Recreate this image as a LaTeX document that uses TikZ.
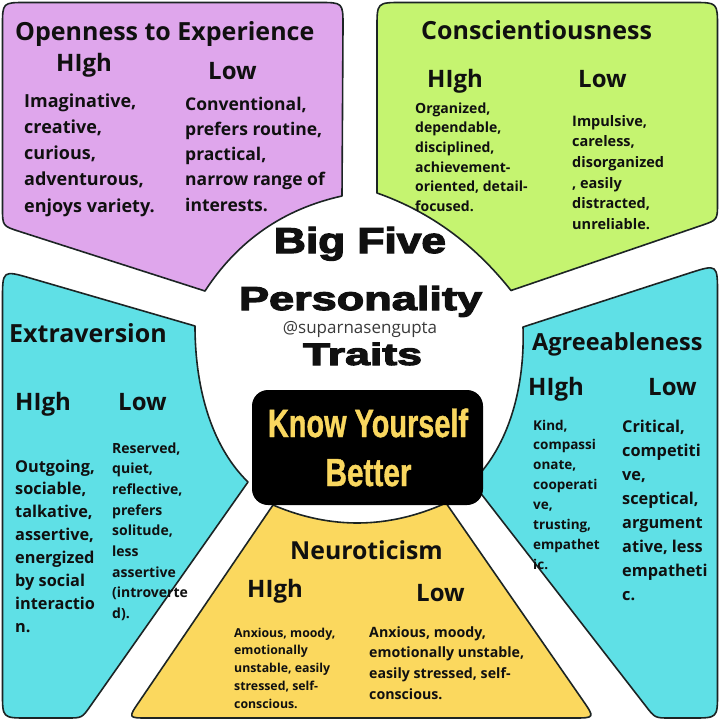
\documentclass[tikz,border=0pt]{standalone}
\usepackage{fontspec}
\usepackage{graphicx}
\setmainfont{Open Sans}
\newfontfamily\heavyfont{Liberation Sans}[BoldFeatures={FakeBold=3.2}]
\newfontfamily\condfont{Liberation Sans}[BoldFeatures={FakeBold=1.2}]
\definecolor{purp}{HTML}{DFA6EC}
\definecolor{lime}{HTML}{C5F470}
\definecolor{aqua}{HTML}{5FE0E6}
\definecolor{sun}{HTML}{FBD85E}
\definecolor{gold}{HTML}{F9D75F}
\definecolor{ink}{HTML}{101010}
\definecolor{edge}{HTML}{1C2424}
\definecolor{handle}{HTML}{3A3A3A}
\newcommand{\ptxt}[3]{{\fontsize{#1}{#2}\selectfont\bfseries\begin{tabular}[t]{@{}l@{}}#3\end{tabular}}}
\tikzset{
  panel/.style={draw=edge, line width=1.6pt, line join=round},
  txt/.style={anchor=base west, inner sep=0pt, text=ink},
  ttl/.style={txt, font=\fontsize{25}{30}\selectfont\bfseries},
  hl/.style={txt, font=\fontsize{24}{28}\selectfont\bfseries},
  ctr/.style={anchor=base, inner sep=0pt, text=ink}
}
\begin{document}
\begin{tikzpicture}[x=1pt,y=-1pt]
\useasboundingbox (0,0) rectangle (720,720);
\fill[white] (0,0) rectangle (720,720);

% Openness (purple)
\draw[panel, fill=purp] (342,196) -- (343,26) .. controls (343,2.5) .. (319,2.5) -- (26,2.5)
  .. controls (2.5,2.5) .. (2.5,26) -- (2.5,208) .. controls (2.5,226) .. (19.6,231.5)
  -- (205,291) .. controls (237.8,240.6) and (283.4,209) .. (342,196) -- cycle;
% Conscientiousness (green)
\draw[panel, fill=lime] (377,193) -- (377,28) .. controls (377,2.5) .. (402,2.5) -- (693,2.5)
  .. controls (717.5,2.5) .. (717.5,27) -- (717.5,203) .. controls (717.5,220) .. (701.3,225.5)
  -- (511,290.5) .. controls (475,245) and (431,212) .. (377,193) -- cycle;
% Extraversion (left cyan)
\draw[panel, fill=aqua] (195,326) -- (31.3,278.4) .. controls (2.5,270) .. (2.5,300)
  -- (2.5,693) .. controls (2.5,718) .. (27.5,718) -- (67,718) .. controls (82,718) .. (90.6,705.7)
  -- (248,482) .. controls (210,445) and (195,385) .. (195,326) -- cycle;
% Agreeableness (right cyan)
\draw[panel, fill=aqua] (523,327) -- (689,273.2) .. controls (717.5,264) .. (717.5,294)
  -- (717.5,693) .. controls (717.5,718) .. (692.5,718) -- (670,718) .. controls (655,718) .. (645.8,706.1)
  -- (472,482) .. controls (510,445) and (525,385) .. (523,327) -- cycle;
% Neuroticism (yellow)
\draw[panel, fill=sun] (273,505) -- (139.3,701.5) .. controls (128,718) .. (148,718)
  -- (573,718) .. controls (595,718) .. (582.5,699.9)
  -- (446,503) .. controls (388.3,529) and (330.7,529.6) .. (273,505) -- cycle;

% Openness texts
\node[ttl] (oT) at (15,40) {Openness to Experience};
\node[hl] (oH) at (56,71) {HIgh};
\node[hl] (oL) at (208,79) {Low};
\node[txt] (oHb) at (24,107) {\ptxt{18}{26.3}{Imaginative,\\creative,\\curious,\\adventurous,\\enjoys variety.}};
\node[txt] (oLb) at (185,110) {\ptxt{17.5}{25.3}{Conventional,\\prefers routine,\\practical,\\narrow range of\\interests.}};

% Conscientiousness texts
\node[ttl] (cT) at (421,39) {Conscientiousness};
\node[hl] (cH) at (427,87) {HIgh};
\node[hl] (cL) at (578,87) {Low};
\node[txt] (cHb) at (415,113) {\ptxt{14}{19.7}{Organized,\\dependable,\\disciplined,\\achievement-\\oriented, detail-\\focused.}};
\node[txt] (cLb) at (572,126) {\ptxt{14.5}{20.7}{Impulsive,\\careless,\\disorganized\\, easily\\distracted,\\unreliable.}};

% Extraversion texts
\node[ttl] (eT) at (9,342) {Extraversion};
\node[hl] (eH) at (15,410) {HIgh};
\node[hl] (eL) at (118,410) {Low};
\node[txt] (eHb) at (15,472) {\ptxt{16.3}{22.9}{Outgoing,\\sociable,\\talkative,\\assertive,\\energized\\by social\\interactio\\n.}};
\node[txt] (eLb) at (112,453) {\ptxt{14}{20.7}{Reserved,\\quiet,\\reflective,\\prefers\\solitude,\\less\\assertive\\(introverte\\d).}};

% Agreeableness texts
\node[ttl, font=\fontsize{23.5}{28}\selectfont\bfseries] (aT) at (532,350) {Agreeableness};
\node[hl] (aH) at (528,395) {HIgh};
\node[hl] (aL) at (648,395) {Low};
\node[txt] (aHb) at (533,430) {\ptxt{13.5}{19.9}{Kind,\\compassi\\onate,\\cooperati\\ve,\\trusting,\\empathet\\ic.}};
\node[txt] (aLb) at (622,432) {\ptxt{16.3}{24}{Critical,\\competiti\\ve,\\sceptical,\\argument\\ative, less\\empatheti\\c.}};

% Neuroticism texts
\node[ttl, font=\fontsize{24.8}{29}\selectfont\bfseries] (nT) at (290,559) {Neuroticism};
\node[hl] (nH) at (247,597) {HIgh};
\node[hl] (nL) at (416,601) {Low};
\node[txt] (nHb) at (234,637) {\ptxt{12.3}{17.8}{Anxious, moody,\\emotionally\\unstable, easily\\stressed, self-\\conscious.}};
\node[txt] (nLb) at (369,637) {\ptxt{14.2}{20.7}{Anxious, moody,\\emotionally unstable,\\easily stressed, self-\\conscious.}};

% Centre
\node[ctr] (big) at (360,253) {\heavyfont\bfseries\resizebox{172pt}{26pt}{Big Five}};
\node[ctr] (pers) at (360.5,310) {\heavyfont\bfseries\resizebox{243pt}{24pt}{Personality}};
\node[ctr, text=handle] (handle) at (360,333) {\fontsize{17}{20}\selectfont @suparnasengupta};
\node[ctr] (traits) at (362.5,365) {\heavyfont\bfseries\resizebox{119pt}{22.5pt}{Traits}};
\node[fill=black, rounded corners=16pt, minimum width=231pt, minimum height=115pt, inner sep=0pt] (box) at (367.5,447.5) {};
\node[ctr, text=gold] (know) at (368,437) {\condfont\bfseries\resizebox{200pt}{28.5pt}{Know Yourself}};
\node[ctr, text=gold] (better) at (368.5,486) {\condfont\bfseries\resizebox{86pt}{27pt}{Better}};
\end{tikzpicture}
\end{document}
